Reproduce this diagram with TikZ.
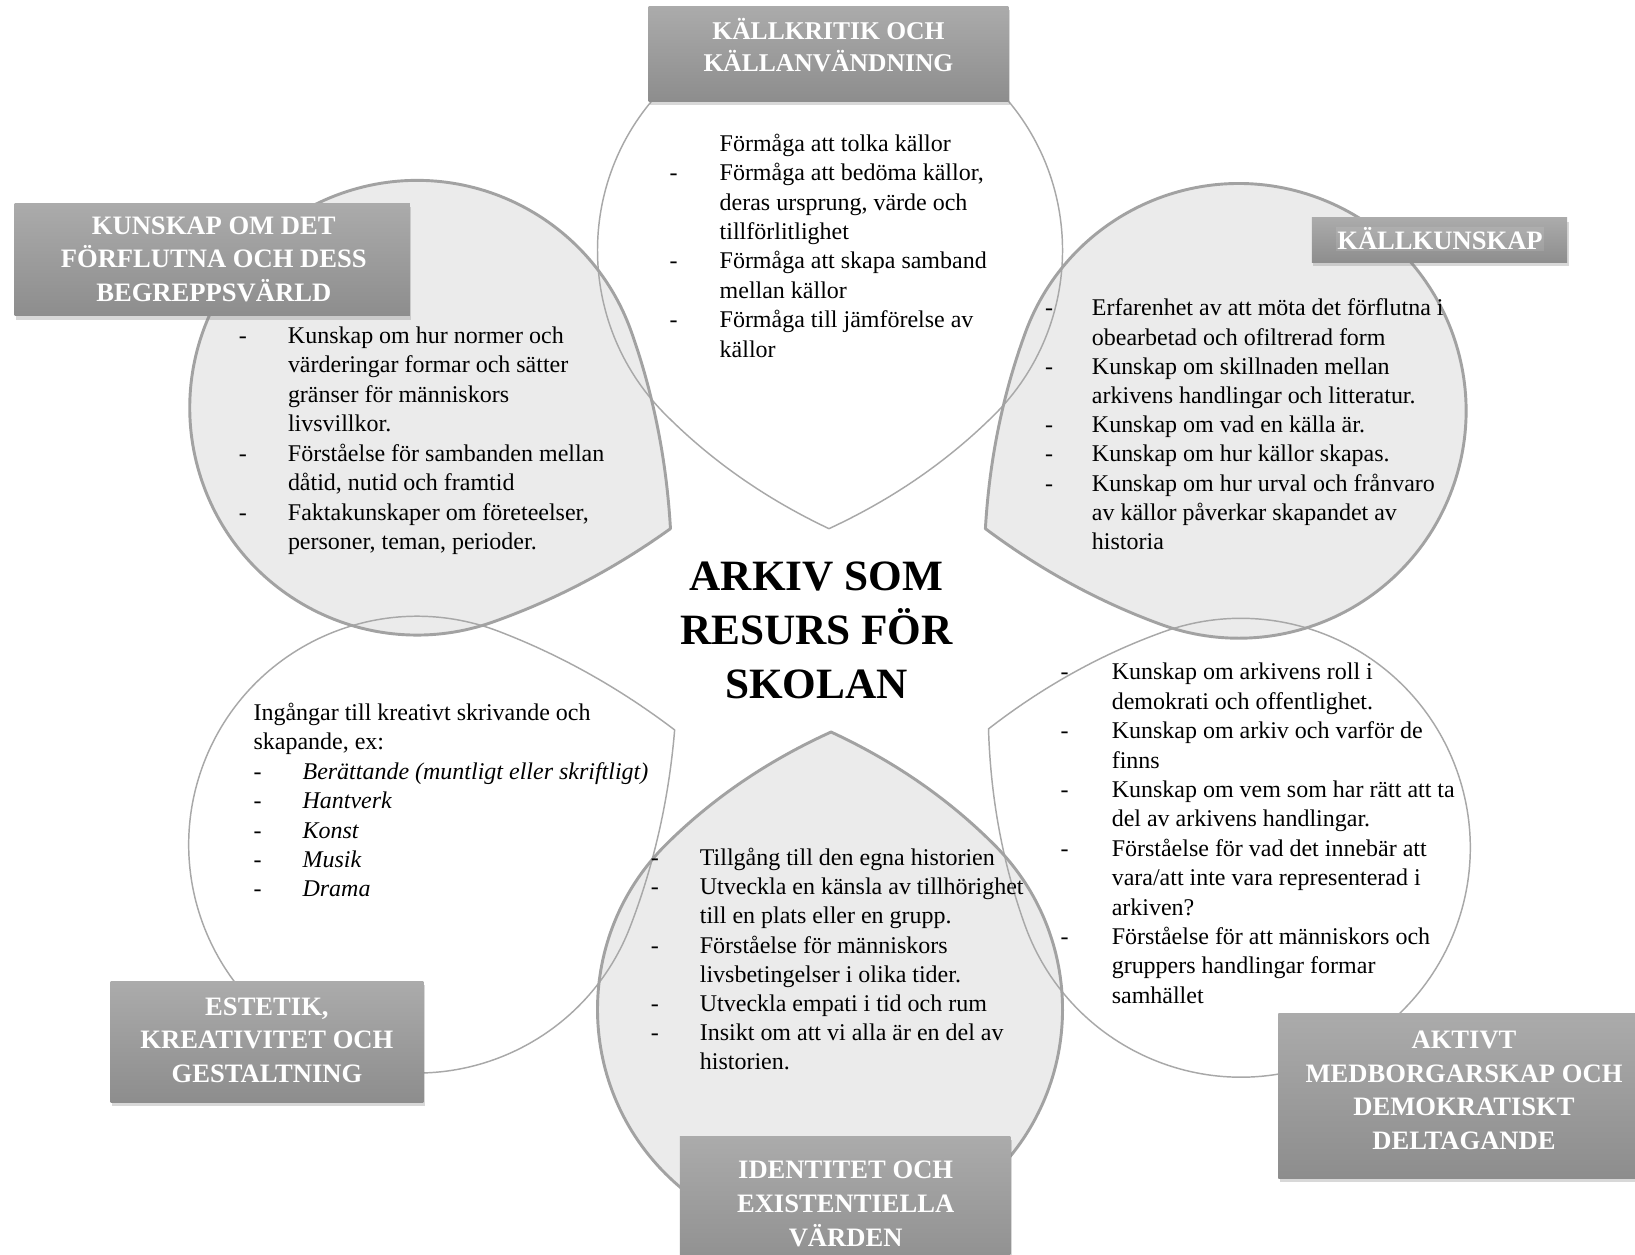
\documentclass[tikz,border=0pt]{standalone}
\usepackage{fontspec}
\setmainfont{Liberation Serif}
\usetikzlibrary{shadows}
\definecolor{petalgray}{HTML}{EBEBEB}
\definecolor{petalline}{HTML}{A8A8A8}
\definecolor{petallinedark}{HTML}{A2A2A2}
\definecolor{boxtop}{HTML}{ABABAB}
\definecolor{boxbot}{HTML}{8D8D8D}
% teardrop petal: centre (#1,#2), radius #3, tip (#4,#5), path options #6 (y measured downwards)
\newcommand\tdpetal[6]{%
  \pgfmathsetmacro\tdAng{atan2((#2)-(#5),(#4)-(#1))-45}%
  \pgfmathsetmacro\tdA{veclen((#4)-(#1),(#5)-(#2))/(1.41421*(#3))}%
  \pgfmathsetmacro\tdR{#3}%
  \pgfmathsetmacro\tdK{0.55228*(#3)}%
  \pgfmathsetmacro\tdT{\tdA*(#3)}%
  \pgfmathsetmacro\tdCa{\tdA*(#3)/3}%
  \pgfmathsetmacro\tdCb{2*\tdA*(#3)/3}%
  \pgfmathsetmacro\tdCc{\tdA*(#3)+2*(#3)*(1-\tdA)/3}%
  \begin{scope}[shift={(#1,-#2)},rotate=\tdAng]
    \path[#6] (\tdR,0) .. controls (\tdR,-\tdK) and (\tdK,-\tdR) .. (0,-\tdR)
      .. controls (-\tdK,-\tdR) and (-\tdR,-\tdK) .. (-\tdR,0)
      .. controls (-\tdR,\tdK) and (-\tdK,\tdR) .. (0,\tdR)
      .. controls (\tdCa,\tdR) and (\tdCb,\tdCc) .. (\tdT,\tdT)
      .. controls (\tdCc,\tdCb) and (\tdR,\tdCa) .. cycle;
  \end{scope}}
\tikzset{
  whitefill/.style={fill=white},
  grayfill/.style={fill=petalgray},
  whiteline/.style={draw=petalline,line width=1.4pt,line join=round},
  grayline/.style={draw=petallinedark,line width=2.8pt,line join=round},
  labelbox/.style={rectangle,inner sep=0pt,top color=boxtop,bottom color=boxbot,
    drop shadow={opacity=0.3,shadow xshift=1.5pt,shadow yshift=-3.5pt}},
  labeltext/.style={inner sep=0pt,text=white,anchor=base,
    font=\fontsize{25.5}{32.3}\bfseries\selectfont},
  bodytext/.style={inner sep=0pt,anchor=base west,text=black,
    font=\fontsize{23}{28.2}\selectfont},
}
\begin{document}
\begin{tikzpicture}[x=1pt,y=1pt]
\useasboundingbox (0,0) rectangle (1568,-1203);
\clip (0,0) rectangle (1568,-1203);
\fill[white] (0,0) rectangle (1568,-1203);
% petal fills
\tdpetal{796}{240}{223}{795}{507}{whitefill}
\tdpetal{1190}{813}{220}{948}{699}{whitefill}
\tdpetal{400}{810}{219}{647}{700}{whitefill}
\tdpetal{1188}{394}{218}{945}{507}{grayfill}
\tdpetal{796}{968}{223}{797}{702}{grayfill}
\tdpetal{400}{391}{218}{643}{507}{grayfill}
% petal outlines
\tdpetal{796}{240}{223}{795}{507}{whiteline}
\tdpetal{1190}{813}{220}{948}{699}{whiteline}
\tdpetal{400}{810}{219}{647}{700}{whiteline}
\tdpetal{1188}{394}{218}{945}{507}{grayline}
\tdpetal{796}{968}{223}{797}{702}{grayline}
\tdpetal{400}{391}{218}{643}{507}{grayline}
% centre title
\node[inner sep=0pt,anchor=base,font=\fontsize{41.5}{52}\bfseries\selectfont] (title) at (783,-566)
  {\begin{tabular}[t]{@{}c@{}}ARKIV SOM\\RESURS FÖR\\SKOLAN\end{tabular}};
% petal texts
\node[bodytext] (ttop) at (642,-145) {\begin{tabular}[t]{@{}p{48pt}@{}l@{}}
 & Förmåga att tolka källor\\
- & Förmåga att bedöma källor,\\
 & deras ursprung, värde och\\
 & tillförlitlighet\\
- & Förmåga att skapa samband\\
 & mellan källor\\
- & Förmåga till jämförelse av\\
 & källor\end{tabular}};
\node[bodytext,font=\fontsize{23}{28.3}\selectfont] (tul) at (229,-329) {\begin{tabular}[t]{@{}p{47pt}@{}l@{}}
- & Kunskap om hur normer och\\
 & värderingar formar och sätter\\
 & gränser för människors\\
 & livsvillkor.\\
- & Förståelse för sambanden mellan\\
 & dåtid, nutid och framtid\\
- & Faktakunskaper om företeelser,\\
 & personer, teman, perioder.\end{tabular}};
\node[bodytext,font=\fontsize{23}{28}\selectfont] (tur) at (1002,-303) {\begin{tabular}[t]{@{}p{45pt}@{}l@{}}
- & Erfarenhet av att möta det förflutna i\\
 & obearbetad och ofiltrerad form\\
- & Kunskap om skillnaden mellan\\
 & arkivens handlingar och litteratur.\\
- & Kunskap om vad en källa är.\\
- & Kunskap om hur källor skapas.\\
- & Kunskap om hur urval och frånvaro\\
 & av källor påverkar skapandet av\\
 & historia\end{tabular}};
\node[bodytext] (tll) at (243,-691) {\begin{tabular}[t]{@{}p{47pt}@{}l@{}}
\multicolumn{2}{@{}l@{}}{Ingångar till kreativt skrivande och}\\
\multicolumn{2}{@{}l@{}}{skapande, ex:}\\
- & \textit{Berättande (muntligt eller skriftligt)}\\
- & \textit{Hantverk}\\
- & \textit{Konst}\\
- & \textit{Musik}\\
- & \textit{Drama}\end{tabular}};
\node[bodytext] (tlr) at (1017,-652) {\begin{tabular}[t]{@{}p{49pt}@{}l@{}}
- & Kunskap om arkivens roll i\\
 & demokrati och offentlighet.\\
- & Kunskap om arkiv och varför de\\
 & finns\\
- & Kunskap om vem som har rätt att ta\\
 & del av arkivens handlingar.\\
- & Förståelse för vad det innebär att\\
 & vara/att inte vara representerad i\\
 & arkiven?\\
- & Förståelse för att människors och\\
 & gruppers handlingar formar\\
 & samhället\end{tabular}};
\node[bodytext,font=\fontsize{23}{28}\selectfont] (tbot) at (624,-830) {\begin{tabular}[t]{@{}p{47pt}@{}l@{}}
- & Tillgång till den egna historien\\
- & Utveckla en känsla av tillhörighet\\
 & till en plats eller en grupp.\\
- & Förståelse för människors\\
 & livsbetingelser i olika tider.\\
- & Utveckla empati i tid och rum\\
- & Insikt om att vi alla är en del av\\
 & historien.\end{tabular}};
% label boxes
\node[labelbox,minimum width=345pt,minimum height=91pt] (btop) at (794.5,-51.5) {};
\node[labelbox,minimum width=379pt,minimum height=108pt] (bul) at (203.5,-249) {};
\node[labelbox,minimum width=245pt,minimum height=43pt] (bur) at (1380.5,-230.5) {};
\node[labelbox,minimum width=300pt,minimum height=116pt] (bll) at (256,-999) {};
\node[labelbox,minimum width=317pt,minimum height=135pt] (bbot) at (810.5,-1157.5) {};
\node[labelbox,minimum width=356pt,minimum height=158pt] (blr) at (1404,-1051) {};
% label texts
\node[labeltext,font=\fontsize{24.5}{31}\bfseries\selectfont] (ltop) at (794.5,-38)
  {\begin{tabular}[t]{@{}c@{}}KÄLLKRITIK OCH\\KÄLLANVÄNDNING\end{tabular}};
\node[labeltext,font=\fontsize{25.5}{32.5}\bfseries\selectfont] (lul) at (205,-224.5)
  {\begin{tabular}[t]{@{}c@{}}KUNSKAP OM DET\\FÖRFLUTNA OCH DESS\\BEGREPPSVÄRLD\end{tabular}};
\node[labeltext,fill=white,fill opacity=0.1,text opacity=1,inner sep=1pt] (lur) at (1381,-239.5) {KÄLLKUNSKAP};
\node[labeltext] (lll) at (256,-973.5)
  {\begin{tabular}[t]{@{}c@{}}ESTETIK,\\KREATIVITET OCH\\GESTALTNING\end{tabular}};
\node[labeltext,font=\fontsize{25.5}{32.5}\bfseries\selectfont] (lbot) at (811,-1130.5)
  {\begin{tabular}[t]{@{}c@{}}IDENTITET OCH\\EXISTENTIELLA\\VÄRDEN\end{tabular}};
\node[labeltext] (llr) at (1404,-1005.5)
  {\begin{tabular}[t]{@{}c@{}}AKTIVT\\MEDBORGARSKAP OCH\\DEMOKRATISKT\\DELTAGANDE\end{tabular}};
\end{tikzpicture}
\end{document}
